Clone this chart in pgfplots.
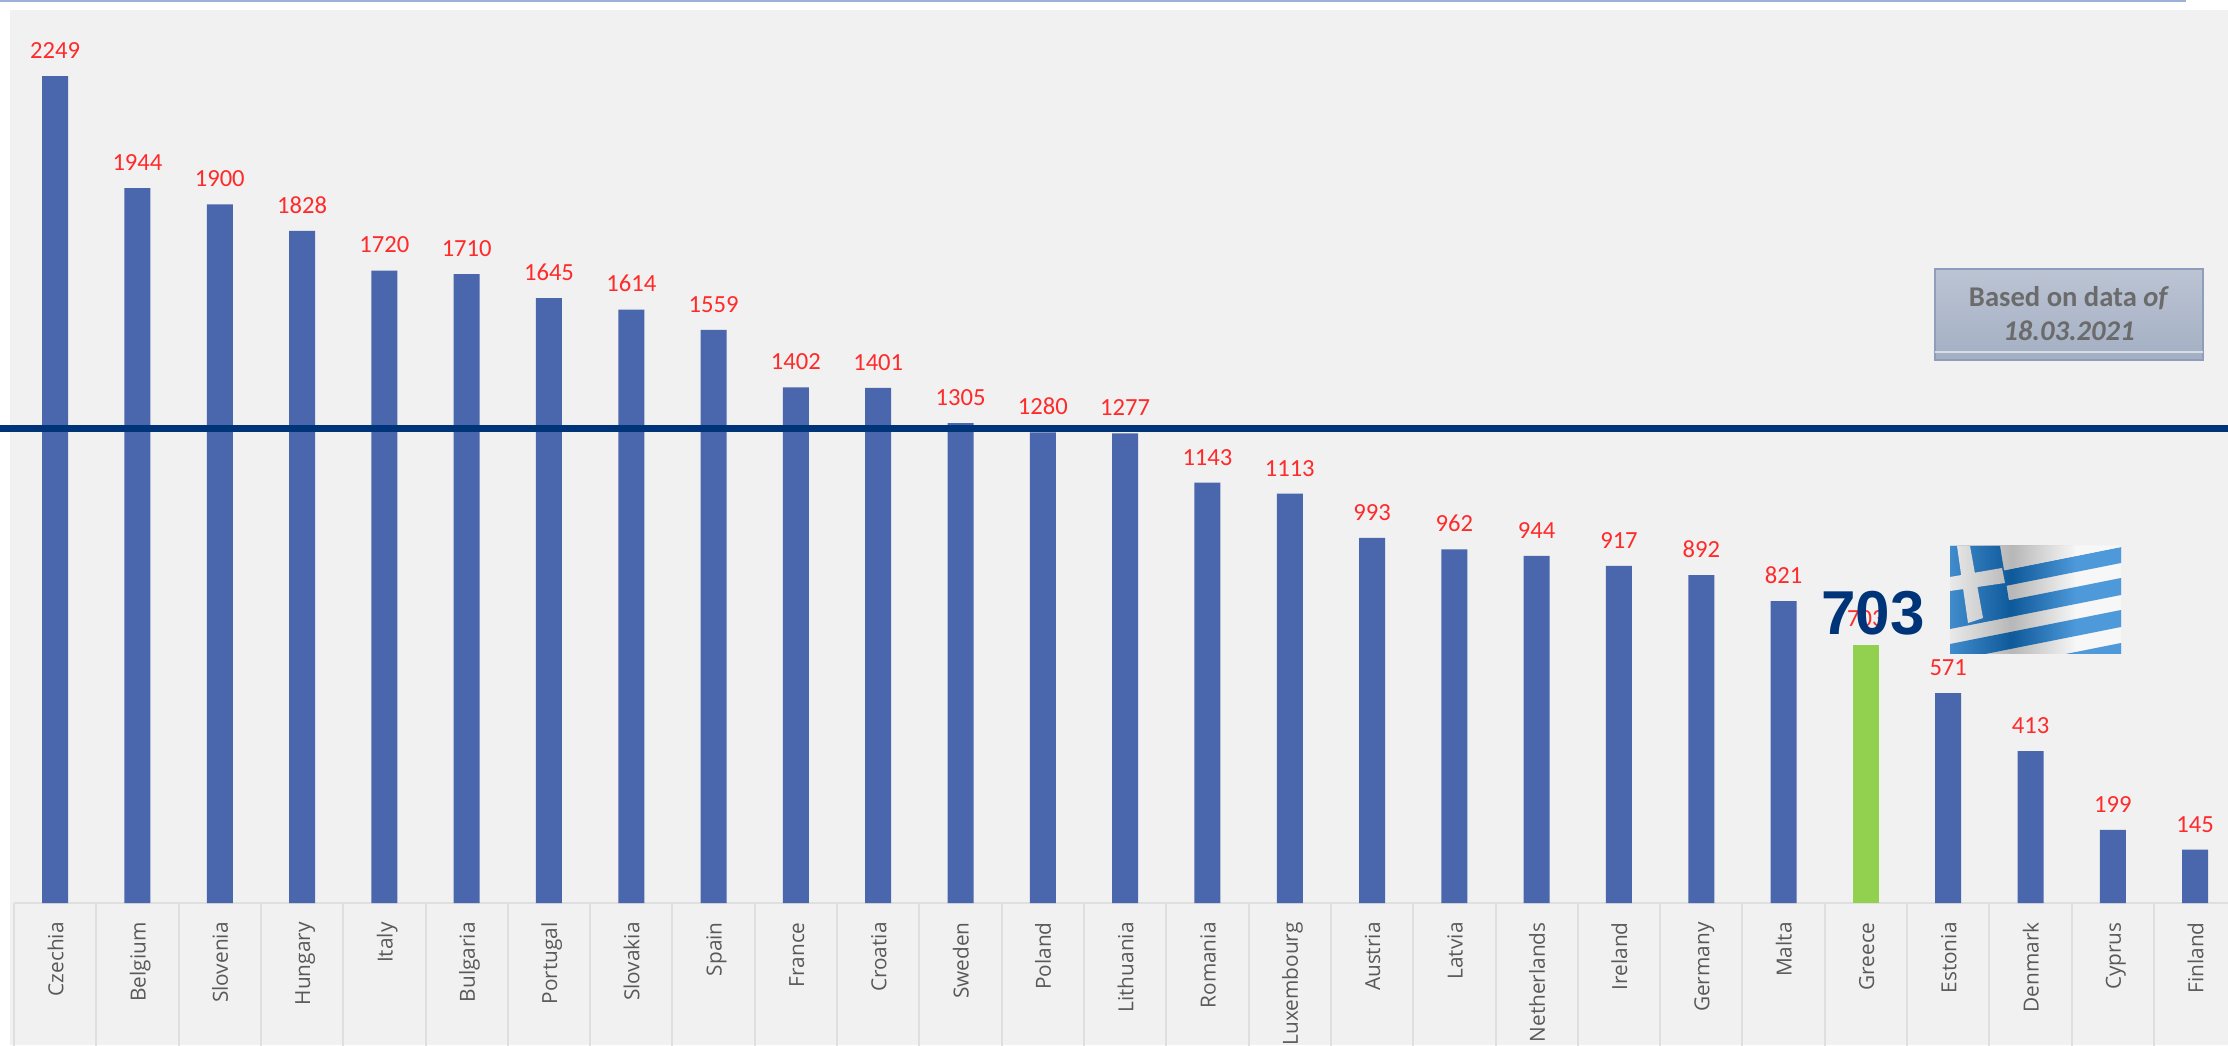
\documentclass[border=0pt]{standalone}
\usepackage{fontspec}
\setmainfont{Carlito}
\newfontfamily\catfont{Open Sans}
\newfontfamily\bigfont{Liberation Sans}
\usepackage{pgfplots}
\pgfplotsset{compat=1.18}
\usepackage{pgfplotstable}
\definecolor{bg}{HTML}{F1F1F1}
\definecolor{gridc}{HTML}{DFDFDF}
\definecolor{barblue}{HTML}{4A66AC}
\definecolor{bargreen}{HTML}{92D050}
\definecolor{navy}{HTML}{003478}
\definecolor{redlab}{HTML}{FF2A2A}
\definecolor{topline}{HTML}{9DB0D8}
\definecolor{flagblue}{HTML}{1478CE}
\definecolor{BoxTop}{HTML}{BCC4D4}
\definecolor{BoxBot}{HTML}{A3AFC3}
\definecolor{BoxEdge}{HTML}{8F9DBB}
\definecolor{BoxLine}{HTML}{D8DCE4}
\pgfdeclarehorizontalshading{flagwave}{100bp}{
  color(0bp)=(white); color(20bp)=(white); color(43bp)=(black);
  color(62bp)=(white); color(80bp)=(white); color(100bp)=(black)}
\pgfplotstableread{
x v
0 2249
1 1944
2 1900
3 1828
4 1720
5 1710
6 1645
7 1614
8 1559
9 1402
10 1401
11 1305
12 1280
13 1277
14 1143
15 1113
16 993
17 962
18 944
19 917
20 892
21 821
23 571
24 413
25 199
26 145
}\blueT
\pgfplotstableread{
x v
22 703
}\greenT
\begin{document}
\begin{tikzpicture}
\useasboundingbox (0,0) rectangle (1114pt,522.5pt);
\clip (0,0) rectangle (1114pt,522.5pt);
\fill[white] (0,0) rectangle (1114pt,522.5pt);
\begin{scope}[x=0.5pt,y=-0.5pt,yshift=522.5pt]
  \fill[bg] (10,10) rectangle (2228,1045);
  \fill[topline] (0,0) rectangle (2186,2);
\end{scope}
\begin{axis}[
  at={(7pt,71pt)}, anchor=south west,
  scale only axis, width=1107pt, height=446.5pt,
  xmin=-0.5, xmax=26.4, ymin=0, ymax=2428.6,
  clip=false,
  axis x line=bottom, axis y line=none,
  x axis line style={draw=gridc,line width=1pt,-},
  ymajorgrids, ytick={500,1000,1500,2000}, yticklabels={},
  grid style={draw=gridc,line width=1pt},
  xtick={0,...,26},
  xticklabels={Czechia,Belgium,Slovenia,Hungary,Italy,Bulgaria,Portugal,Slovakia,Spain,France,Croatia,Sweden,Poland,Lithuania,Romania,Luxembourg,Austria,Latvia,Netherlands,Ireland,Germany,Malta,Greece,Estonia,Denmark,Cyprus,Finland},
  major x tick style={draw=none},
  major tick length=0pt,
  minor xtick={-0.5,0.5,...,25.5},
  minor tick length=75pt,
  minor x tick style={draw=gridc,line width=1pt},
  tick align=outside, x tick label style={rotate=90,anchor=east,inner sep=0pt,
     yshift=-1.2pt,font=\catfont\fontsize{10.4pt}{12pt}\selectfont,text=black!65,
     text height=1.5ex,text depth=.3ex},
  xticklabel shift=9.5pt,
  ybar, bar shift=0pt, bar width=13pt,
  nodes near coords,
  every node near coord/.append style={anchor=base,inner sep=0pt,yshift=8.8pt,
     font=\fontsize{12.3pt}{14pt}\selectfont,text=redlab},
  /pgf/number format/1000 sep={},
  /pgf/number format/assume math mode=true,
]
\addplot[fill=barblue,draw=none] table[x=x,y=v]{\blueT};
\addplot[fill=bargreen,draw=none] table[x=x,y=v]{\greenT};
\addplot[sharp plot,draw=navy,line width=3.5pt,nodes near coords={},forget plot] coordinates {(-0.7,1291) (26.5,1291)};
\end{axis}
\begin{scope}[x=0.5pt,y=-0.5pt,yshift=522.5pt]
  \node[font=\bigfont\bfseries\fontsize{31pt}{31pt}\selectfont,text=navy,inner sep=0pt] at (1873,613) {703};
  % note box
  \shade[top color=BoxTop,bottom color=BoxBot,draw=BoxEdge,line width=1pt] (1935,269) rectangle (2203,360);
  \node[font=\bfseries\fontsize{14.3pt}{17pt}\selectfont,text=black!58,align=center,inner sep=0pt] at (2069,314) {Based on data \textit{of}\\ \textit{18.03.2021}};
  \draw[BoxLine,line width=1pt] (1935,352) -- (2203,352);
  % flag
  \begin{scope}
    \clip (1950,546) rectangle (2121,654);
    \fill[white!96!black] (1950,546) rectangle (2121,654);
    \foreach \a/\b in {547/563,578/595,610/627,643/659,676/692}{
      \fill[flagblue] (1950,\a+34) -- (2121,\a) -- (2121,\b) -- (1950,\b+34) -- cycle;
    }
    \fill[white!96!black] (2000,546) -- (2121,546) -- (2121,547) -- (2001,571) -- cycle;
    \fill[flagblue] (1950,546) -- (2000,546) -- (2009,601) -- (2009,617) -- (1950,628) -- cycle;
    \fill[white!96!black] (1957,546) -- (1970,546) -- (1983,618) -- (1968,623) -- cycle;
    \fill[white!96!black] (1950,577) -- (2002,568) -- (2005,583) -- (1950,591) -- cycle;
    \shade[shading=flagwave,opacity=.25] (1950,546) rectangle (2121,654);
  \end{scope}
\end{scope}
\end{tikzpicture}
\end{document}
